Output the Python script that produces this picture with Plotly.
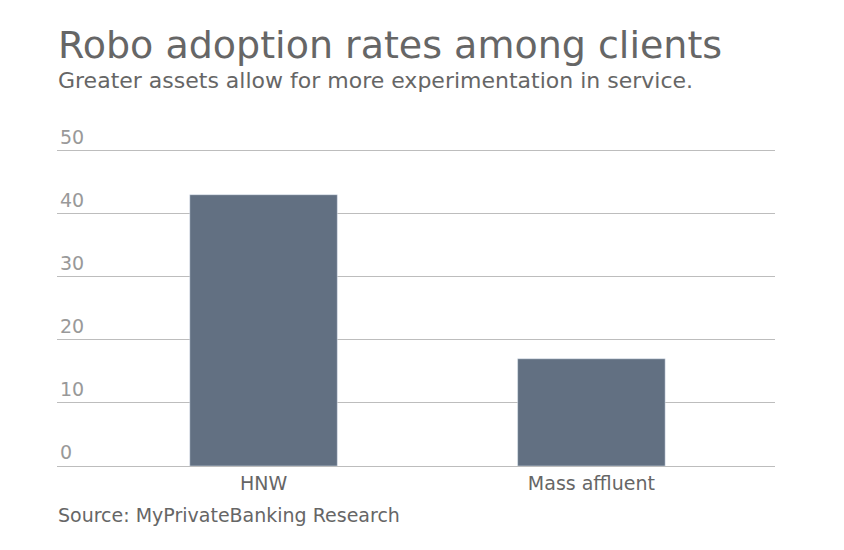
import plotly.graph_objects as go

categories = ["HNW", "Mass affluent"]
values = [43, 17]
y_ticks = [0, 10, 20, 30, 40, 50]

BAR = "#627082"
GRID = "#bdbdbd"
TEXT = "#666666"
FONT = "DejaVu Sans"

fig = go.Figure(
    go.Bar(x=[0, 1], y=values, marker_color=BAR, width=0.45)
)

fig.update_layout(
    width=844,
    height=550,
    margin=dict(l=49, r=77, t=111, b=92),
    paper_bgcolor="white",
    plot_bgcolor="white",
    font=dict(family=FONT, color=TEXT),
    showlegend=False,
    xaxis=dict(
        range=[-0.63, 1.56],
        tickvals=[0, 1],
        ticktext=categories,
        tickfont=dict(size=19, color=TEXT),
        showgrid=False,
        showline=True,
        linecolor=GRID,
        zeroline=False,
        ticks="",
    ),
    yaxis=dict(
        range=[0, 55],
        tickvals=y_ticks,
        ticklabelposition="inside top",
        tickfont=dict(size=19, color="#999999"),
        showgrid=True,
        gridcolor=GRID,
        zeroline=False,
        ticks="",
    ),
)

# title block and source line
fig.add_annotation(text="Robo adoption rates among clients", xref="paper", yref="paper",
                   x=-0.002, y=1.213, xanchor="left", yanchor="middle", showarrow=False,
                   font=dict(size=38, color=TEXT))
fig.add_annotation(text="Greater assets allow for more experimentation in service.", xref="paper", yref="paper",
                   x=-0.002, y=1.112, xanchor="left", yanchor="middle", showarrow=False,
                   font=dict(size=22, color=TEXT))
fig.add_annotation(text="Source: MyPrivateBanking Research", xref="paper", yref="paper",
                   x=-0.002, y=-0.141, xanchor="left", yanchor="middle", showarrow=False,
                   font=dict(size=19, color=TEXT))

fig.write_html("out.html")
